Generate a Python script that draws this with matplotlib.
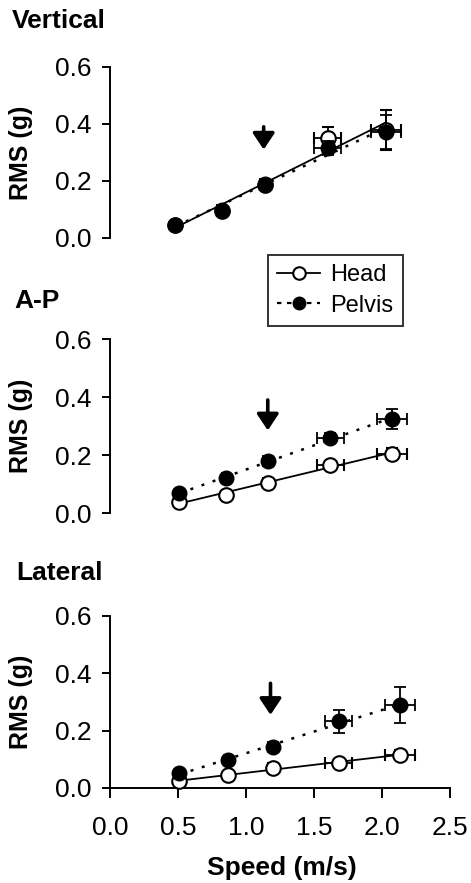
import matplotlib
matplotlib.use("Agg")

import numpy as np
import matplotlib.pyplot as plt
from matplotlib.lines import Line2D

plt.rcParams["font.family"] = ["Liberation Sans", "DejaVu Sans"]

# Walking speed (m/s) and SD for each panel
speed_vert = [0.48, 0.82, 1.14, 1.60, 2.03]
speed_ap = [0.51, 0.85, 1.16, 1.62, 2.07]
speed_lat = [0.51, 0.87, 1.20, 1.68, 2.13]
speed_sd = [0.02, 0.03, 0.035, 0.10, 0.11]

# RMS acceleration (g), mean and SD
head_vert = [0.045, 0.095, 0.185, 0.35, 0.38]
head_vert_sd = [0.005, 0.008, 0.01, 0.04, 0.07]
pelvis_vert = [0.047, 0.098, 0.19, 0.315, 0.373]
pelvis_vert_sd = [0.005, 0.008, 0.01, 0.025, 0.06]

head_ap = [0.038, 0.063, 0.103, 0.167, 0.205]
head_ap_sd = [0.005, 0.01, 0.01, 0.012, 0.02]
pelvis_ap = [0.069, 0.12, 0.178, 0.26, 0.324]
pelvis_ap_sd = [0.008, 0.01, 0.012, 0.015, 0.035]

head_lat = [0.023, 0.046, 0.07, 0.087, 0.116]
head_lat_sd = [0.005, 0.008, 0.01, 0.012, 0.015]
pelvis_lat = [0.052, 0.099, 0.143, 0.232, 0.29]
pelvis_lat_sd = [0.008, 0.01, 0.015, 0.04, 0.063]

# preferred walking speed marker (x) and arrow extent (y top, y tip)
arrow_x = [1.13, 1.16, 1.18]
arrow_y = [(0.39, 0.31), (0.39, 0.285), (0.365, 0.255)]

panels = [
    ("Vertical", speed_vert, head_vert, head_vert_sd, pelvis_vert, pelvis_vert_sd),
    ("A-P", speed_ap, head_ap, head_ap_sd, pelvis_ap, pelvis_ap_sd),
    ("Lateral", speed_lat, head_lat, head_lat_sd, pelvis_lat, pelvis_lat_sd),
]

fig = plt.figure(figsize=(4.71, 8.83), dpi=100)
rects = [[0.2335, 0.7305, 0.722, 0.1937],
         [0.2335, 0.419, 0.722, 0.197],
         [0.2335, 0.1076, 0.722, 0.1948]]
title_pos = [(0.026, 0.990), (0.030, 0.673), (0.034, 0.3645)]

ms = 10.5
for i, (name, spd, head, head_sd, pel, pel_sd) in enumerate(panels):
    ax = fig.add_axes(rects[i])
    spd = np.array(spd)
    xs = np.array([spd.min(), spd.max()])

    # linear fits
    ph = np.polyfit(spd, head, 1)
    pp = np.polyfit(spd, pel, 1)
    ax.plot(xs, np.polyval(ph, xs), color="black", lw=1.3, zorder=2)
    ax.plot(xs, np.polyval(pp, xs), color="black", lw=1.8,
            linestyle=(0, (1.2, 3.5)), zorder=2)

    ax.errorbar(spd, head, yerr=head_sd, xerr=speed_sd, fmt="o", ms=ms,
                mfc="white", mec="black", mew=1.5, ecolor="black",
                elinewidth=1.3, capsize=4.5, capthick=1.3, zorder=3,
                clip_on=False)
    ax.errorbar(spd, pel, yerr=pel_sd, xerr=speed_sd, fmt="o", ms=ms,
                mfc="black", mec="black", ecolor="black",
                elinewidth=1.3, capsize=4.5, capthick=1.3, zorder=4,
                clip_on=False)

    ax.annotate("", xy=(arrow_x[i], arrow_y[i][1]),
                xytext=(arrow_x[i], arrow_y[i][0]),
                arrowprops=dict(arrowstyle="-|>,head_length=0.45,head_width=0.3",
                                color="black", lw=2.6, mutation_scale=22,
                                shrinkA=0, shrinkB=0))

    ax.set_xlim(0, 2.5)
    ax.set_ylim(0, 0.6)
    ax.set_yticks([0.0, 0.2, 0.4, 0.6])
    ax.set_yticklabels(["0.0", "0.2", "0.4", "0.6"])
    for s in ["top", "right"]:
        ax.spines[s].set_visible(False)
    ax.spines["left"].set_linewidth(1.4)
    ax.tick_params(axis="y", direction="out", length=6, width=1.4,
                   labelsize=19, pad=7)
    ax.set_ylabel("RMS (g)", fontsize=18, fontweight="bold")
    ax.yaxis.set_label_coords(-0.226, 0.5)

    if i < 2:
        ax.spines["bottom"].set_visible(False)
        ax.set_xticks([])
    else:
        ax.spines["bottom"].set_linewidth(1.4)
        ax.set_xticks([0.0, 0.5, 1.0, 1.5, 2.0, 2.5])
        ax.set_xticklabels(["0.0", "0.5", "1.0", "1.5", "2.0", "2.5"])
        ax.tick_params(axis="x", direction="out", length=7, width=1.4,
                       labelsize=19, pad=13)
        ax.set_xlabel("Speed (m/s)", fontsize=19, fontweight="bold")
        ax.xaxis.set_label_coords(0.506, -0.395)

    fig.text(title_pos[i][0], title_pos[i][1], name, fontsize=19,
             fontweight="bold", ha="left", va="top")

handles = [
    Line2D([], [], color="black", lw=1.3, marker="o", ms=9, mfc="white",
           mec="black", mew=1.5),
    Line2D([], [], color="black", lw=1.6, linestyle=(0, (2, 2.5)), marker="o",
           ms=9, mfc="black", mec="black"),
]
leg = fig.legend(handles, ["Head", "Pelvis"], loc="upper left",
                 bbox_to_anchor=(268 / 471, 1 - 255 / 883),
                 bbox_transform=fig.transFigure, borderaxespad=0,
                 fontsize=17, frameon=True, fancybox=False, handlelength=1.8,
                 handletextpad=0.45, borderpad=0.4, labelspacing=0.35)
leg.get_frame().set_edgecolor("black")
leg.get_frame().set_linewidth(1.4)

plt.savefig("out.png", dpi=100)
plt.close()
